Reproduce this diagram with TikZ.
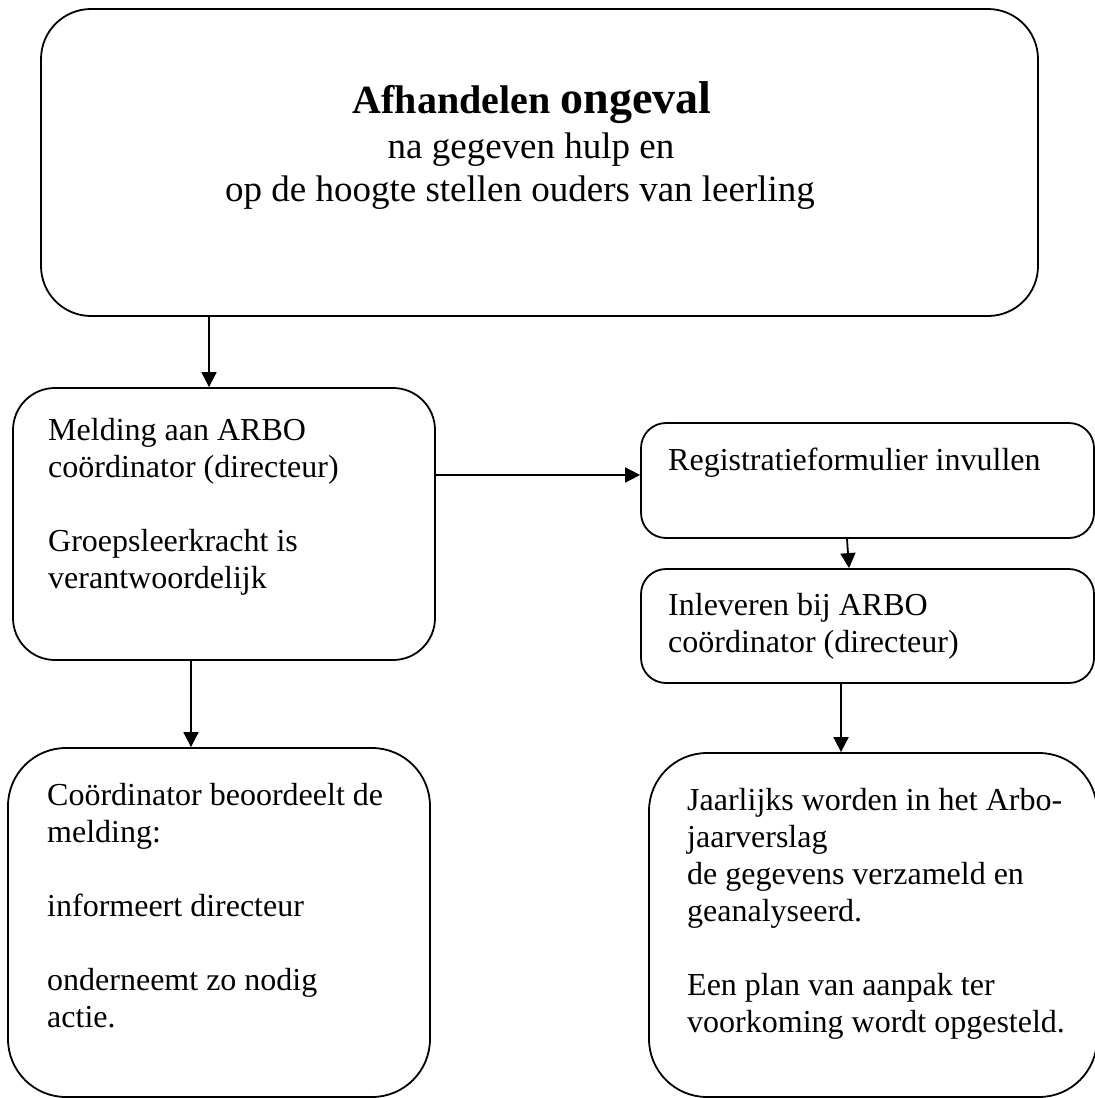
\documentclass[tikz,border=0pt]{standalone}
\usepackage{fontspec}
\setmainfont{Liberation Serif}
\usetikzlibrary{arrows.meta}

\begin{document}
\begin{tikzpicture}[x=1pt,y=-1pt,
		kader/.style={draw, line width=1.8pt, inner sep=0pt},
		tekst/.style={anchor=north west, inner sep=0pt, align=left, font=\fontsize{32}{37}\selectfont},
		kop/.style={anchor=base, inner sep=0pt, font=\fontsize{37}{43}\selectfont},
		pijl/.style={-{Stealth[inset=0pt,length=15pt,width=15pt]}, line width=1.8pt}]
	\useasboundingbox (0,0) rectangle (1095,1098);
	
	% kaders
	\node[kader, rounded corners=50pt, minimum width=997pt, minimum height=307pt] (ongeval) at (539.5,162.5) {};
	\node[kader, rounded corners=42pt, minimum width=422pt, minimum height=272pt] (melding) at (224,524) {};
	\node[kader, rounded corners=25pt, minimum width=453pt, minimum height=115pt] (registratie) at (867.5,480.5) {};
	\node[kader, rounded corners=25pt, minimum width=453pt, minimum height=114pt] (inleveren) at (867.5,626) {};
	\node[kader, rounded corners=58pt, minimum width=422pt, minimum height=349pt] (coordinator) at (219,922.5) {};
	\node[kader, rounded corners=58pt, minimum width=448pt, minimum height=344pt] (jaarlijks) at (873,925) {};
	
	% teksten
	\node[kop] (koptitel) at (532,113) {\bfseries\fontsize{40}{46}\selectfont Afhandelen {\fontsize{46}{52}\selectfont ongeval}};
	\node[kop] (kopregel1) at (531,158) {na gegeven hulp en};
	\node[kop] (kopregel2) at (520,201) {op de hoogte stellen ouders van leerling};
	\node[tekst] (meldingtxt) at (48,414.8) {\strut Melding aan ARBO\\coördinator (directeur)\\[37pt]Groepsleerkracht is\\verantwoordelijk};
	\node[tekst] (registratietxt) at (668,444.1) {\strut Registratieformulier invullen};
	\node[tekst] (inleverentxt) at (668,589.1) {\strut Inleveren bij ARBO\\coördinator (directeur)};
	\node[tekst] (coordinatortxt) at (47,779.1) {\strut Coördinator beoordeelt de\\melding:\\[37pt]informeert directeur\\[37pt]onderneemt zo nodig\\actie.};
	\node[tekst] (jaarlijkstxt) at (687,784.1) {\strut Jaarlijks worden in het Arbo-\\jaarverslag\\de gegevens verzameld en\\geanalyseerd.\\[37pt]Een plan van aanpak ter\\voorkoming wordt opgesteld.};
	
	% pijlen
	\draw[pijl] ([xshift=-15pt]melding.north |- ongeval.south) -- ([xshift=-15pt]melding.north);
	\draw[pijl] ([xshift=-33pt]melding.south) -- ([xshift=-33pt]melding.south |- coordinator.north);
	\draw[pijl] ([yshift=5.5pt]registratie.west -| melding.east) -- ([yshift=5.5pt]registratie.west);
	\draw[pijl] ([xshift=-20.5pt]registratie.south) -- ([xshift=-18.5pt]inleveren.north);
	\draw[pijl] ([xshift=-26.5pt]inleveren.south) -- ([xshift=-26.5pt]inleveren.south |- jaarlijks.north);
\end{tikzpicture}
\end{document}
